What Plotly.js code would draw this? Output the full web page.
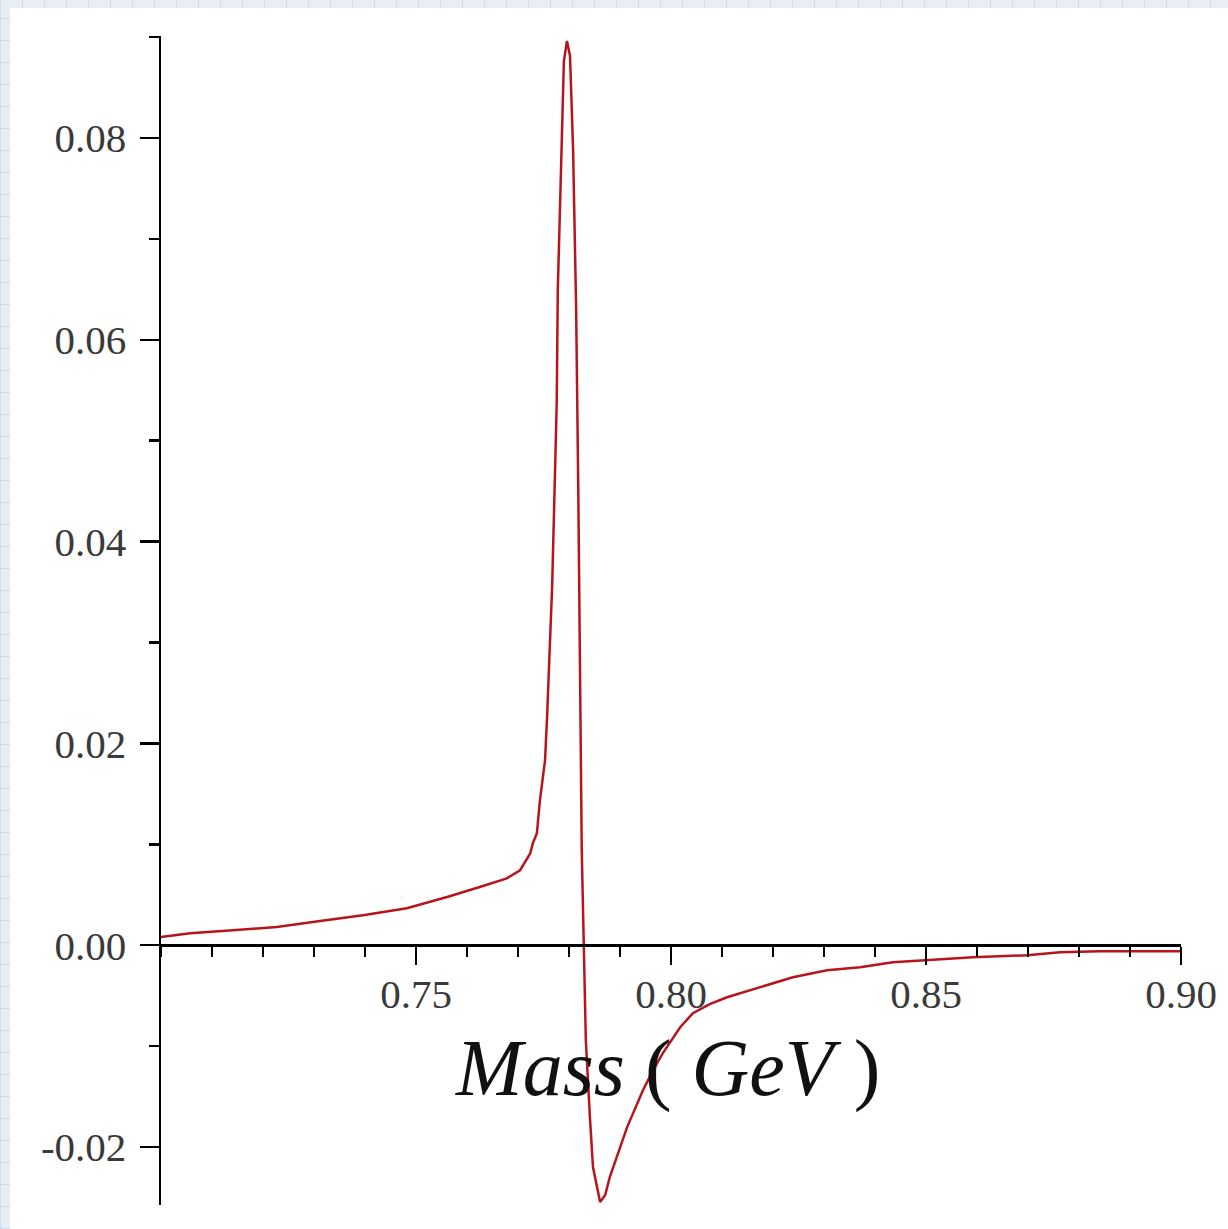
<!DOCTYPE html>
<html>
<head>
<meta charset="utf-8">
<script src="https://cdn.plot.ly/plotly-3.0.1.min.js"></script>
<style>
  html, body { margin: 0; padding: 0; width: 1228px; height: 1229px; overflow: hidden; }
  body {
    background-color: #e9eef4;
    background-image:
      repeating-linear-gradient(90deg, rgba(160,185,215,0.35) 0 1px, transparent 1px 22px),
      repeating-linear-gradient(0deg, rgba(160,185,215,0.35) 0 1px, transparent 1px 22px);
  }
  #sheet { position: absolute; left: 10px; top: 8px; right: 0; bottom: 0; background: #ffffff; }
  #chart { position: absolute; left: 0; top: 0; width: 1228px; height: 1229px; }
</style>
</head>
<body>
<div id="sheet"></div>
<div id="chart"></div>
<script>
// Mass (GeV) values and curve values
const massGeV = [
  0.7000, 0.7057, 0.7141, 0.7227, 0.7312, 0.7396, 0.7482, 0.7561, 0.7625, 0.7678,
  0.7704, 0.7724, 0.7729, 0.7737, 0.7743, 0.7753, 0.7757, 0.7761, 0.7767, 0.7773,
  0.7776, 0.7778, 0.7784, 0.7790, 0.7796, 0.7802, 0.7808, 0.7814, 0.7818, 0.7822,
  0.7825, 0.7829, 0.7833, 0.7841, 0.7847, 0.7861, 0.7871, 0.7880, 0.7914, 0.7945,
  0.7965, 0.7984, 0.8018, 0.8043, 0.8076, 0.8110, 0.8175, 0.8239, 0.8306, 0.8371,
  0.8435, 0.8502, 0.8592, 0.8698, 0.8763, 0.8841, 0.9000
];
const amplitude = [
  0.00082, 0.00119, 0.00149, 0.00181, 0.00241, 0.00297, 0.00366, 0.00478, 0.00577, 0.00663,
  0.00743, 0.00911, 0.01010, 0.01109, 0.01436, 0.01832, 0.02257, 0.02822, 0.03564, 0.04772,
  0.05396, 0.06485, 0.07644, 0.08762, 0.08960, 0.08812, 0.07891, 0.06307, 0.04604, 0.02426,
  0.00941, 0.00000, -0.00941, -0.01703, -0.02198, -0.02545, -0.02475, -0.02297, -0.01802, -0.01436,
  -0.01238, -0.01069, -0.00812, -0.00673, -0.00584, -0.00515, -0.00416, -0.00317, -0.00248, -0.00218,
  -0.00168, -0.00149, -0.00119, -0.00099, -0.00069, -0.00059, -0.00059
];

// Tick values and labels
const xTickVals = [0.75, 0.80, 0.85, 0.90];
const xTickText = ["0.75", "0.80", "0.85", "0.90"];
const yTickVals = [-0.02, 0.00, 0.02, 0.04, 0.06, 0.08];
const yTickText = ["-0.02", "0.00", "0.02", "0.04", "0.06", "0.08"];

const xRange = [0.70, 0.90];
const yRange = [-0.02574, 0.0901];
const xAxisTitle = "<i>Mass</i> ( <i>GeV</i> )";

const serif = '"Liberation Serif", "Times New Roman", "DejaVu Serif", serif';
const zeroPos = (0 - yRange[0]) / (yRange[1] - yRange[0]);

const trace = {
  x: massGeV,
  y: amplitude,
  type: 'scatter',
  mode: 'lines',
  line: { color: '#b8141c', width: 2.5 },
  hoverinfo: 'skip',
  cliponaxis: true
};

const layout = {
  width: 1228,
  height: 1229,
  margin: { l: 161, r: 47, t: 36, b: 24, pad: 0 },
  paper_bgcolor: 'rgba(0,0,0,0)',
  plot_bgcolor: 'rgba(0,0,0,0)',
  showlegend: false,
  xaxis: {
    range: xRange,
    anchor: 'free',
    position: zeroPos,
    showline: true,
    linecolor: '#000000',
    linewidth: 2.5,
    showgrid: false,
    zeroline: false,
    ticks: 'outside',
    ticklen: 18,
    tickwidth: 2.5,
    tickcolor: '#000000',
    tickmode: 'array',
    tickvals: xTickVals,
    ticktext: xTickText,
    ticklabelstandoff: -6,
    tickfont: { family: serif, size: 41, color: '#3a3a3a' },
    minor: { ticks: 'outside', ticklen: 10, tickwidth: 2.5, tickcolor: '#000000', tickmode: 'linear', tick0: 0.70, dtick: 0.01, showgrid: false }
  },
  yaxis: {
    range: yRange,
    showline: true,
    linecolor: '#000000',
    linewidth: 2.5,
    showgrid: false,
    zeroline: false,
    ticks: 'outside',
    ticklen: 19,
    tickwidth: 2.5,
    tickcolor: '#000000',
    tickmode: 'array',
    tickvals: yTickVals,
    ticktext: yTickText,
    ticklabelstandoff: 5,
    tickfont: { family: serif, size: 41, color: '#3a3a3a' },
    minor: { ticks: 'outside', ticklen: 10, tickwidth: 2.5, tickcolor: '#000000', tickmode: 'linear', tick0: 0.0, dtick: 0.01, showgrid: false }
  },
  annotations: [{
    text: xAxisTitle,
    xref: 'x', yref: 'y',
    x: 0.7994, y: -0.0122,
    xanchor: 'center', yanchor: 'middle',
    showarrow: false,
    font: { family: serif, size: 80, color: '#111111' }
  }]
};

Plotly.newPlot('chart', [trace], layout, { displayModeBar: false, staticPlot: true });
</script>
</body>
</html>
